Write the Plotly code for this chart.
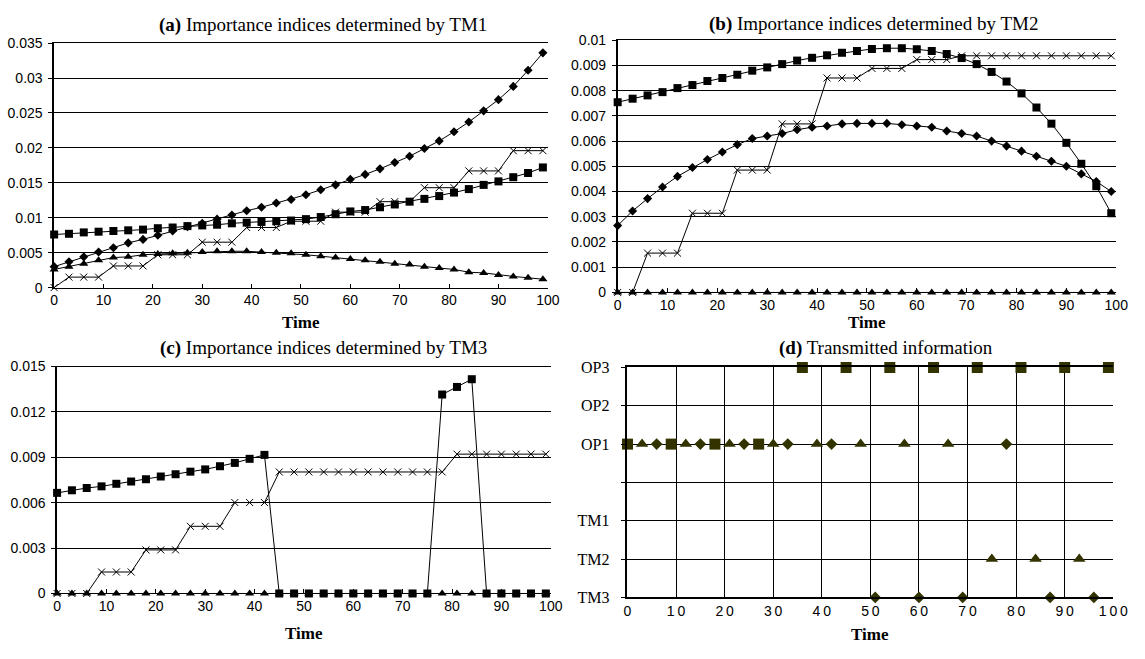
import plotly.graph_objects as go

# ---------------- data ----------------
t = list(range(0, 100, 3))  # 0,3,...,99

a_diamond = [0.0030, 0.0037, 0.0044, 0.0051, 0.0057, 0.0064, 0.0069, 0.0075, 0.0081, 0.0087,
             0.0092, 0.0098, 0.0104, 0.0110, 0.0115, 0.0121, 0.0126, 0.0133, 0.0140, 0.0147,
             0.0155, 0.0162, 0.0170, 0.0179, 0.0188, 0.0199, 0.0210, 0.0223, 0.0237, 0.0253,
             0.0269, 0.0288, 0.0311, 0.0336]
a_square = [0.0076, 0.0077, 0.0079, 0.0080, 0.0081, 0.0082, 0.0083, 0.0085, 0.0086, 0.0088,
            0.0089, 0.0090, 0.0092, 0.0093, 0.0094, 0.0095, 0.0096, 0.0098, 0.0101, 0.0105,
            0.0109, 0.0111, 0.0115, 0.0119, 0.0123, 0.0127, 0.0131, 0.0136, 0.0141, 0.0147,
            0.0152, 0.0158, 0.0164, 0.0172]
a_cross = [0.0, 0.0015, 0.0015, 0.0015, 0.0031, 0.0031, 0.0031, 0.0047, 0.0047, 0.0047,
           0.0065, 0.0065, 0.0065, 0.0086, 0.0086, 0.0086, 0.0095, 0.0095, 0.0095, 0.0108,
           0.0108, 0.0108, 0.0123, 0.0123, 0.0123, 0.0143, 0.0143, 0.0143, 0.0167, 0.0167,
           0.0167, 0.0196, 0.0196, 0.0196]
a_triangle = [0.0026, 0.0030, 0.0034, 0.0039, 0.0043, 0.0044, 0.0047, 0.0048, 0.0049, 0.0050,
              0.0051, 0.0052, 0.0052, 0.0052, 0.0051, 0.0050, 0.0049, 0.0047, 0.0045, 0.0043,
              0.0041, 0.0039, 0.0037, 0.0034, 0.0033, 0.0030, 0.0028, 0.0026, 0.0022, 0.0021,
              0.0018, 0.0016, 0.0014, 0.0012]

b_square = [0.00754, 0.00768, 0.00781, 0.00794, 0.00810, 0.00822, 0.00838, 0.00850, 0.00863, 0.00879,
            0.00892, 0.00905, 0.00919, 0.00930, 0.00940, 0.00950, 0.00957, 0.00965, 0.00968, 0.00968,
            0.00964, 0.00957, 0.00945, 0.00929, 0.00905, 0.00874, 0.00836, 0.00789, 0.00733, 0.00669,
            0.00593, 0.00510, 0.00421, 0.00314]
b_diamond = [0.00265, 0.00323, 0.00372, 0.00418, 0.00460, 0.00495, 0.00527, 0.00557, 0.00586, 0.00610,
             0.00620, 0.00630, 0.00645, 0.00655, 0.00660, 0.00668, 0.00670, 0.00670, 0.00670, 0.00665,
             0.00660, 0.00655, 0.00640, 0.00630, 0.00620, 0.00600, 0.00580, 0.00560, 0.00540, 0.00520,
             0.00500, 0.00470, 0.00440, 0.00400]
b_cross = [0.0, 0.0, 0.00156, 0.00156, 0.00156, 0.00314, 0.00314, 0.00314, 0.00485, 0.00485,
           0.00485, 0.00668, 0.00668, 0.00668, 0.00850, 0.00850, 0.00850, 0.00888, 0.00888, 0.00888,
           0.00923, 0.00923, 0.00923, 0.00938, 0.00938, 0.00938, 0.00938, 0.00938, 0.00938, 0.00938,
           0.00938, 0.00938, 0.00938, 0.00938]
b_triangle = [0.0] * 34

c_square = [0.00665, 0.00682, 0.00697, 0.00708, 0.00725, 0.00740, 0.00755, 0.00773, 0.00788, 0.00805,
            0.00820, 0.00841, 0.00863, 0.00890, 0.00916, 0.0, 0.0, 0.0, 0.0, 0.0,
            0.0, 0.0, 0.0, 0.0, 0.0, 0.0, 0.01315, 0.01365, 0.01416, 0.0,
            0.0, 0.0, 0.0, 0.0]
c_cross = [0.0, 0.0, 0.0, 0.00142, 0.00142, 0.00142, 0.00288, 0.00288, 0.00288, 0.00444,
           0.00444, 0.00444, 0.00601, 0.00601, 0.00601, 0.00803, 0.00803, 0.00803, 0.00803, 0.00803,
           0.00803, 0.00803, 0.00803, 0.00803, 0.00803, 0.00803, 0.00803, 0.00921, 0.00921, 0.00921,
           0.00921, 0.00921, 0.00921, 0.00921]
c_triangle = [0.0] * 34

# panel (d): transmitted information
d_levels = ["TM3", "TM2", "TM1", "", "OP1", "OP2", "OP3"]
d_square_t = [0, 9, 18, 27, 36, 45, 54, 63, 72, 81, 90, 99]
d_square_lv = ["OP1", "OP1", "OP1", "OP1", "OP3", "OP3", "OP3", "OP3", "OP3", "OP3", "OP3", "OP3"]
d_tri_t = [3, 12, 21, 30, 39, 48, 57, 66, 75, 84, 93]
d_tri_lv = ["OP1", "OP1", "OP1", "OP1", "OP1", "OP1", "OP1", "OP1", "TM2", "TM2", "TM2"]
d_dia_t = [6, 15, 24, 33, 42, 51, 60, 69, 78, 87, 96]
d_dia_lv = ["OP1", "OP1", "OP1", "OP1", "OP1", "TM3", "TM3", "TM3", "OP1", "TM3", "TM3"]

x_ticks = list(range(0, 101, 10))

# ---------------- figure ----------------
W, H = 1145, 659
fig = go.Figure()

def px_x(p):
    return p / W

def px_y(p):
    return 1 - p / H

SANS = "Liberation Sans, Arial, sans-serif"
SERIF = "Liberation Serif, Times New Roman, serif"

marker_styles = {
    "diamond": dict(symbol="diamond", size=7, color="black"),
    "square": dict(symbol="square", size=8, color="black"),
    "triangle": dict(symbol="triangle-up", size=8, color="black"),
    "cross": dict(symbol="x-thin", size=7, color="black", line=dict(width=1, color="black")),
}

def add_series(xa, ya, y, kind):
    fig.add_trace(go.Scatter(
        x=t, y=y, xaxis=xa, yaxis=ya, mode="lines+markers",
        line=dict(color="black", width=1),
        marker=marker_styles[kind], cliponaxis=False, showlegend=False,
        hoverinfo="x+y"))

# panel a
add_series("x", "y", a_triangle, "triangle")
add_series("x", "y", a_square, "square")
add_series("x", "y", a_cross, "cross")
add_series("x", "y", a_diamond, "diamond")
# panel b
add_series("x2", "y2", b_triangle, "triangle")
add_series("x2", "y2", b_diamond, "diamond")
add_series("x2", "y2", b_cross, "cross")
add_series("x2", "y2", b_square, "square")
# panel c
add_series("x3", "y3", c_triangle, "triangle")
add_series("x3", "y3", c_cross, "cross")
add_series("x3", "y3", c_square, "square")

# panel d
lv_pos = {lv: i for i, lv in enumerate(d_levels)}
DCOL = "#333300"
for tt, lv, sym, sz in [(d_square_t, d_square_lv, "square", 11),
                        (d_tri_t, d_tri_lv, "triangle-up", 11),
                        (d_dia_t, d_dia_lv, "diamond", 9)]:
    fig.add_trace(go.Scatter(
        x=tt, y=[lv_pos[v] for v in lv], xaxis="x4", yaxis="y4", mode="markers",
        marker=dict(symbol=sym, size=sz, color=DCOL), cliponaxis=False,
        showlegend=False, hovertext=lv, hoverinfo="x+text"))

tickfont = dict(family=SANS, size=14, color="black")

def xaxis_cfg(dom, anchor):
    return dict(domain=dom, anchor=anchor, range=[0, 100], tickmode="array",
                tickvals=x_ticks, showgrid=False, zeroline=False,
                showline=True, linecolor="black", linewidth=1, mirror=True,
                ticks="inside", ticklen=4, tickcolor="black",
                tickfont=tickfont, fixedrange=True)

def yaxis_cfg(dom, anchor, rng, dtick):
    return dict(domain=dom, anchor=anchor, range=rng, dtick=dtick, tick0=0,
                showgrid=True, gridcolor="black", gridwidth=1, zeroline=False,
                showline=True, linecolor="black", linewidth=1.5, mirror=False,
                ticks="outside", ticklen=4, tickcolor="black", ticklabelstandoff=3,
                tickfont=tickfont, fixedrange=True)

dom_a_x = [px_x(51), px_x(553)]
dom_a_y = [px_y(287), px_y(36)]
dom_b_x = [px_x(624), px_x(1131)]
dom_b_y = [px_y(292), px_y(33)]
dom_c_x = [px_x(54), px_x(556)]
dom_c_y = [px_y(601), px_y(368)]
dom_d_x = [px_x(634), px_x(1128)]
dom_d_y = [px_y(605), px_y(369)]

spaced = ["\u2009".join(str(v)) for v in x_ticks]

fig.update_layout(
    width=W, height=H, margin=dict(l=0, r=0, t=0, b=0),
    paper_bgcolor="white", plot_bgcolor="white",
    xaxis=xaxis_cfg(dom_a_x, "y"),
    yaxis=yaxis_cfg(dom_a_y, "x", [0, 0.035], 0.005),
    xaxis2=xaxis_cfg(dom_b_x, "y2"),
    yaxis2=yaxis_cfg(dom_b_y, "x2", [0, 0.01], 0.001),
    xaxis3=xaxis_cfg(dom_c_x, "y3"),
    yaxis3=yaxis_cfg(dom_c_y, "x3", [0, 0.015], 0.003),
    xaxis4=dict(domain=dom_d_x, anchor="y4", range=[0, 100], tickmode="array",
                tickvals=x_ticks, ticktext=spaced, showgrid=True, gridcolor="black",
                gridwidth=1, zeroline=False, showline=True, linecolor="black",
                linewidth=1.5, mirror=True, ticks="", tickfont=tickfont, fixedrange=True),
    yaxis4=dict(domain=dom_d_y, anchor="x4", range=[0, 6], tickmode="array",
                tickvals=list(range(len(d_levels))), ticktext=d_levels,
                showgrid=True, gridcolor="black", gridwidth=1, zeroline=False,
                showline=True, linecolor="black", linewidth=1.5,
                ticks="outside", ticklen=5, tickcolor="black", ticklabelstandoff=8,
                tickfont=dict(family=SERIF, size=16, color="black"), fixedrange=True),
)

titles = [
    ("<b>(a)</b> Importance indices determined by TM1", 324, 17),
    ("<b>(b)</b> Importance indices determined by TM2", 884, 16),
    ("<b>(c)</b> Importance indices determined by TM3", 325, 349),
    ("<b>(d)</b> Transmitted information", 897, 349),
]
for txt, x, y in titles:
    fig.add_annotation(text=txt, x=px_x(x), y=px_y(y), xref="paper", yref="paper",
                       xanchor="center", yanchor="middle", showarrow=False,
                       font=dict(family=SERIF, size=19, color="black"))

for x, y in [(302, 323), (878, 323), (305, 642), (881, 643)]:
    fig.add_annotation(text="<b>Time</b>", x=px_x(x), y=px_y(y), xref="paper", yref="paper",
                       xanchor="center", yanchor="middle", showarrow=False,
                       font=dict(family=SERIF, size=17, color="black"))

fig.write_html("out.html", config={"displayModeBar": False},
               post_script="document.body.style.margin='0';")
